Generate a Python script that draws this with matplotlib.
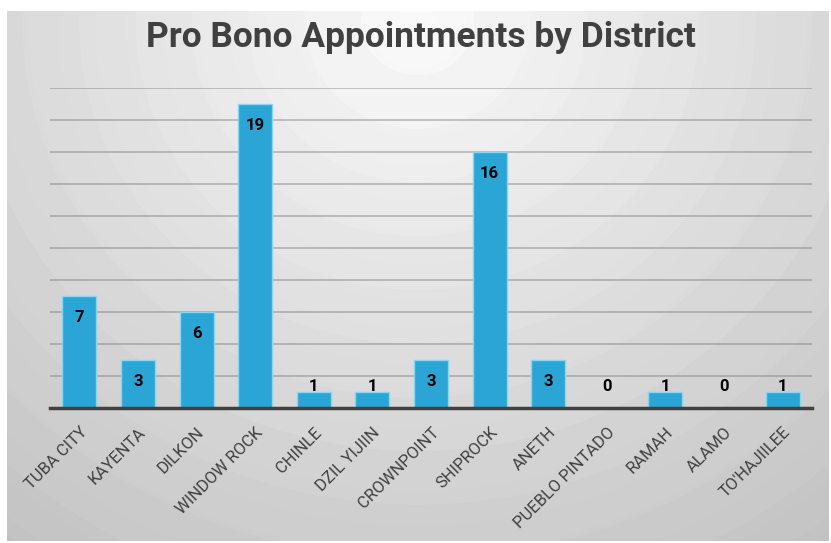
import numpy as np
import matplotlib.pyplot as plt

districts = ['TUBA CITY', 'KAYENTA', 'DILKON', 'WINDOW ROCK', 'CHINLE', 'DZIL YIJIIN',
             'CROWNPOINT', 'SHIPROCK', 'ANETH', 'PUEBLO PINTADO', 'RAMAH', 'ALAMO', "TO'HAJIILEE"]
appointments = [7, 3, 6, 19, 1, 1, 3, 16, 3, 0, 1, 0, 1]

plt.rcParams['font.family'] = ['Roboto', 'DejaVu Sans']

W, H = 831, 543
fig = plt.figure(figsize=(W / 100, H / 100), dpi=100)
fig.patch.set_facecolor('white')

# radial grey background with soft rings
bg = fig.add_axes([7 / W, 1 - 541 / H, 822 / W, 530 / H])
yy, xx = np.mgrid[0:530, 0:822]
r = np.sqrt((xx - 410) ** 2 + ((yy - 10) * 1.05) ** 2) / 620.0
steps = np.floor(r * 11) / 11
shade = 0.975 - 0.2 * (0.6 * steps + 0.4 * r)
bg.imshow(shade, cmap='gray', vmin=0, vmax=1, aspect='auto', interpolation='bilinear')
bg.axis('off')

ax = fig.add_axes([50 / W, 1 - 408 / H, 762 / W, 320 / H])
ax.patch.set_alpha(0)
x = np.arange(len(districts))
ax.bar(x, appointments, width=0.58, color='#2aa5d6', edgecolor='#8fd3ee', linewidth=1, zorder=3)
ax.set_xlim(-0.5, len(districts) - 0.5)
ax.set_ylim(0, 20)
ax.set_yticks(np.arange(0, 21, 2))
ax.set_yticklabels([])
ax.yaxis.grid(True, color='#707070', alpha=0.45, linewidth=1.2)
ax.set_axisbelow(True)
ax.tick_params(axis='y', length=0)
ax.tick_params(axis='x', length=0, pad=12)
for s in ['top', 'right', 'left']:
    ax.spines[s].set_visible(False)
ax.spines['bottom'].set_color('#404040')
ax.spines['bottom'].set_linewidth(2.5)
ax.spines['bottom'].set_zorder(4)

ax.set_xticks(x)
ax.set_xticklabels(districts, rotation=45, ha='right', rotation_mode='anchor',
                   fontsize=12, color='#404040')

for xi, v in zip(x, appointments):
    ax.text(xi, max(v - 1.37, 1.33), str(v), ha='center', va='center',
            fontsize=12, fontweight='bold', color='black', zorder=5)

fig.text(421 / W, 1 - 37 / H, 'Pro Bono Appointments by District', ha='center', va='center',
         fontsize=25.5, fontweight='bold', color='#404040')

plt.savefig('out.png', dpi=100)
